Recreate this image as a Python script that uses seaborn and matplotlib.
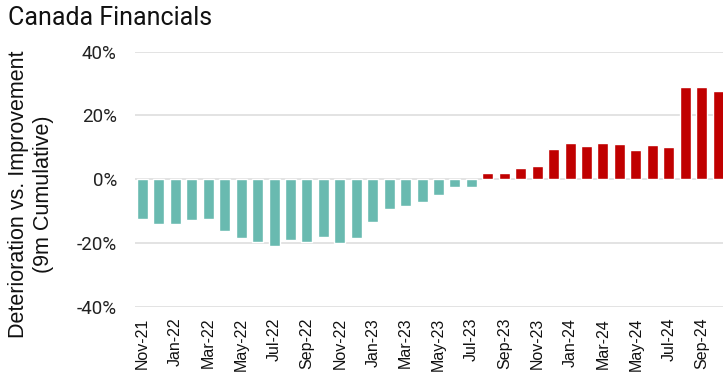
import matplotlib
matplotlib.use('Agg')
import matplotlib.pyplot as plt
import matplotlib.ticker as mticker
import pandas as pd
import seaborn as sns

# ----------------- data -----------------
months = ['Nov-21', 'Dec-21', 'Jan-22', 'Feb-22', 'Mar-22', 'Apr-22', 'May-22', 'Jun-22',
          'Jul-22', 'Aug-22', 'Sep-22', 'Oct-22', 'Nov-22', 'Dec-22', 'Jan-23', 'Feb-23',
          'Mar-23', 'Apr-23', 'May-23', 'Jun-23', 'Jul-23', 'Aug-23', 'Sep-23', 'Oct-23',
          'Nov-23', 'Dec-23', 'Jan-24', 'Feb-24', 'Mar-24', 'Apr-24', 'May-24', 'Jun-24',
          'Jul-24', 'Aug-24', 'Sep-24', 'Oct-24']
# 9m cumulative deterioration vs improvement (fraction)
values = [-0.124, -0.139, -0.139, -0.127, -0.124, -0.161, -0.183, -0.196, -0.208,
          -0.190, -0.196, -0.180, -0.199, -0.186, -0.133, -0.092, -0.083, -0.073,
          -0.051, -0.023, -0.023, 0.019, 0.018, 0.035, 0.041, 0.095, 0.113, 0.104,
          0.114, 0.111, 0.092, 0.108, 0.101, 0.289, 0.289, 0.276]

teal = '#69BAB0'
red = '#C00000'

df = pd.DataFrame({'month': months, 'value': values})
df['sign'] = ['neg' if v < 0 else 'pos' for v in df['value']]

# ----------------- plot -----------------
sns.set_style('white')
plt.rcParams['font.family'] = ['Roboto', 'DejaVu Sans']
plt.rcParams['axes.unicode_minus'] = False

fig = plt.figure(figsize=(7.23, 3.76), dpi=100)
ax = fig.add_axes([0.1867, 0.1843, 0.8133, 0.6782])

sns.barplot(data=df, x='month', y='value', hue='sign', palette={'neg': teal, 'pos': red},
            dodge=False, width=0.67, legend=False, saturation=1, ax=ax, zorder=3)

ax.set_ylim(-0.4, 0.4)
ax.set_xlim(-0.46, 35.3)
ax.yaxis.set_major_locator(mticker.MultipleLocator(0.2))
ax.yaxis.set_major_formatter(mticker.PercentFormatter(1.0, decimals=0))
ax.grid(axis='y', color='#e3e3e3', linewidth=1.4, zorder=0)
ax.grid(axis='x', visible=False)
sns.despine(ax=ax, left=True, bottom=True, right=True, top=True)

ax.set_xticks(range(0, len(months), 2))
ax.set_xticklabels(months[::2], rotation=90, fontsize=11.5, family='Liberation Sans')
ax.tick_params(axis='x', length=0, pad=8, labelcolor='#111111')
ax.tick_params(axis='y', length=0, pad=13, labelsize=13.5, labelcolor='#222222')
ax.set_xlabel('')
ax.set_ylabel('Deterioration vs. Improvement\n(9m Cumulative)', fontsize=15.5, color='#111111',
              family='Liberation Sans', linespacing=1.25)
ax.yaxis.set_label_coords(-0.137, 0.44)

fig.text(0.011, 0.952, 'Canada Financials', fontsize=18, color='#111111', va='center', ha='left')

fig.savefig('out.png', dpi=100)
plt.close(fig)
